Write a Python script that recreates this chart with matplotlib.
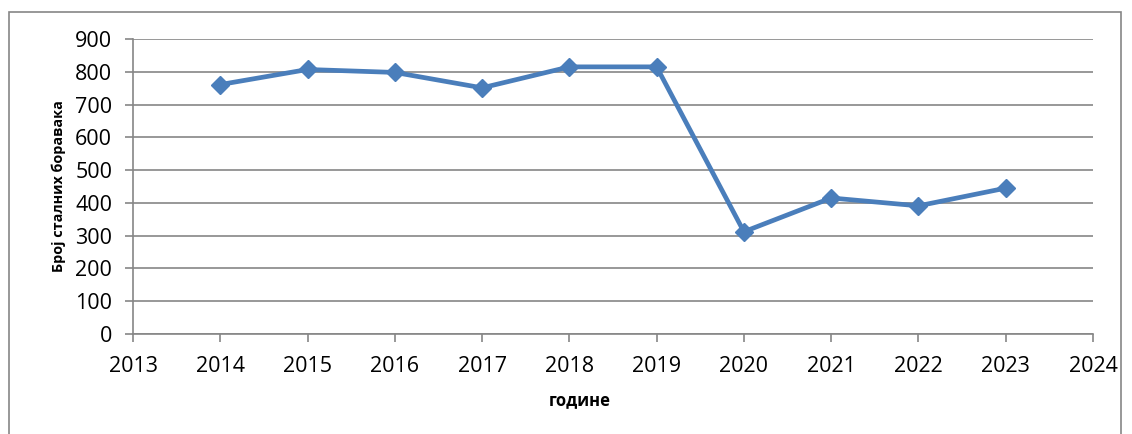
import matplotlib.pyplot as plt
from matplotlib.patches import Rectangle

plt.rcParams['font.family'] = ['Open Sans', 'DejaVu Sans']

years = [2014, 2015, 2016, 2017, 2018, 2019, 2020, 2021, 2022, 2023]
stays = [761, 807, 798, 751, 815, 815, 312, 415, 391, 445]
y_ticks = [0, 100, 200, 300, 400, 500, 600, 700, 800, 900]
x_ticks = list(range(2013, 2025))

grey = '#868686'
blue = '#4A7EBB'

fig = plt.figure(figsize=(11.32, 4.34), dpi=100)
ax = fig.add_axes([133 / 1132, 1 - 334 / 434, 960 / 1132, 295 / 434])

ax.plot(years, stays, color=blue, linewidth=3.4, marker='D', markersize=9.5,
        markerfacecolor=blue, markeredgecolor=blue, zorder=3)

ax.set_xlim(2013, 2024)
ax.set_ylim(0, 900)
ax.set_xticks(x_ticks)
ax.set_yticks(y_ticks)
ax.grid(axis='y', color=grey, linewidth=1.2)
ax.set_axisbelow(True)

for side in ['top', 'right']:
    ax.spines[side].set_visible(False)
for side in ['left', 'bottom']:
    ax.spines[side].set_color(grey)
    ax.spines[side].set_linewidth(1.2)

ax.tick_params(axis='both', colors=grey, length=6, width=1.2, labelcolor='black',
               labelsize=15.5)
ax.tick_params(axis='x', pad=10)
ax.tick_params(axis='y', pad=9)

ax.set_ylabel('Број сталних боравака', fontsize=10.4, fontweight='bold')
ax.yaxis.set_label_coords(-(133 - 66) / 960, 0.5)
ax.set_xlabel('године', fontsize=12, fontweight='bold')
ax.xaxis.set_label_coords((580 - 133) / 960, -0.195)

# outer chart border
fig.patches.append(Rectangle((9 / 1132, -0.05), 1112 / 1132, 1 - 12 / 434 + 0.05,
                             transform=fig.transFigure, fill=False,
                             edgecolor=grey, linewidth=1.2))

fig.savefig('out.png', dpi=100)
